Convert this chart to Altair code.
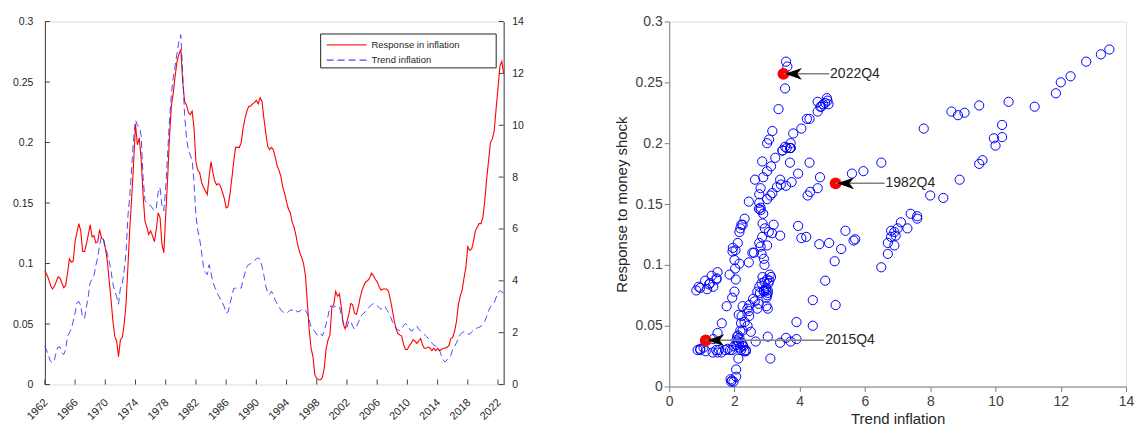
import altair as alt
import pandas as pd

FONT = "Liberation Sans"

start_year = 1962

# Response of inflation to a money shock (left axis), quarterly from 1962Q1
response = [
    0.094, 0.091, 0.087, 0.082,  # 1962
    0.079, 0.081, 0.085, 0.089,  # 1963
    0.088, 0.084, 0.080, 0.082,  # 1964
    0.092, 0.104, 0.101, 0.102,  # 1965
    0.118, 0.126, 0.133, 0.127,  # 1966
    0.110, 0.110, 0.116, 0.124,  # 1967
    0.132, 0.122, 0.123, 0.117,  # 1968
    0.118, 0.128, 0.121, 0.120,  # 1969
    0.113, 0.103, 0.087, 0.071,  # 1970
    0.053, 0.040, 0.036, 0.023,  # 1971
    0.037, 0.039, 0.050, 0.067,  # 1972
    0.098, 0.130, 0.155, 0.183,  # 1973
    0.215, 0.198, 0.204, 0.186,  # 1974
    0.157, 0.135, 0.130, 0.124,  # 1975
    0.127, 0.123, 0.118, 0.128,  # 1976
    0.142, 0.138, 0.116, 0.109,  # 1977
    0.140, 0.170, 0.205, 0.230,  # 1978
    0.241, 0.255, 0.267, 0.273,  # 1979
    0.277, 0.250, 0.234, 0.231,  # 1980
    0.225, 0.223, 0.226, 0.212,  # 1981
    0.184, 0.177, 0.175, 0.167,  # 1982
    0.163, 0.160, 0.157, 0.172,  # 1983
    0.184, 0.175, 0.168, 0.165,  # 1984
    0.166, 0.164, 0.159, 0.154,  # 1985
    0.146, 0.147, 0.157, 0.170,  # 1986
    0.184, 0.196, 0.196, 0.196,  # 1987
    0.200, 0.212, 0.220, 0.226,  # 1988
    0.230, 0.230, 0.232, 0.233,  # 1989
    0.235, 0.232, 0.237, 0.234,  # 1990
    0.220, 0.208, 0.197, 0.194,  # 1991
    0.196, 0.194, 0.188, 0.181,  # 1992
    0.177, 0.172, 0.163, 0.158,  # 1993
    0.151, 0.145, 0.142, 0.134,  # 1994
    0.130, 0.123, 0.115, 0.109,  # 1995
    0.105, 0.100, 0.090, 0.068,  # 1996
    0.045, 0.030, 0.023, 0.008,  # 1997
    0.005, 0.004, 0.004, 0.006,  # 1998
    0.014, 0.030, 0.037, 0.041,  # 1999
    0.064, 0.066, 0.077, 0.073,  # 2000
    0.075, 0.064, 0.050, 0.046,  # 2001
    0.052, 0.058, 0.067, 0.066,  # 2002
    0.059, 0.058, 0.064, 0.072,  # 2003
    0.078, 0.082, 0.085, 0.086,  # 2004
    0.088, 0.092, 0.090, 0.087,  # 2005
    0.085, 0.081, 0.078, 0.079,  # 2006
    0.079, 0.079, 0.077, 0.070,  # 2007
    0.062, 0.053, 0.046, 0.042,  # 2008
    0.041, 0.040, 0.033, 0.029,  # 2009
    0.029, 0.032, 0.034, 0.037,  # 2010
    0.036, 0.034, 0.036, 0.038,  # 2011
    0.033, 0.030, 0.030, 0.031,  # 2012
    0.030, 0.028, 0.030, 0.028,  # 2013
    0.030, 0.028, 0.029, 0.030,  # 2014
    0.030, 0.031, 0.032, 0.038,  # 2015
    0.039, 0.044, 0.052, 0.066,  # 2016
    0.073, 0.078, 0.088, 0.097,  # 2017
    0.114, 0.111, 0.112, 0.118,  # 2018
    0.127, 0.130, 0.133, 0.133,  # 2019
    0.138, 0.152, 0.170, 0.185,  # 2020
    0.200, 0.203, 0.210, 0.228,  # 2021
    0.245, 0.263, 0.267, 0.257,  # 2022
]

# Trend inflation (right axis), quarterly from 1962Q1
trend = [
    1.48, 1.30, 1.10, 0.90,  # 1962
    0.83, 0.95, 1.25, 1.45,  # 1963
    1.45, 1.22, 1.16, 1.35,  # 1964
    1.85, 2.00, 2.15, 2.44,  # 1965
    2.76, 3.15, 3.20, 3.05,  # 1966
    2.60, 2.55, 3.00, 3.40,  # 1967
    3.95, 4.05, 4.20, 4.60,  # 1968
    4.90, 5.40, 5.70, 5.65,  # 1969
    5.27, 5.07, 4.78, 4.40,  # 1970
    3.90, 3.58, 3.40, 3.10,  # 1971
    3.72, 3.90, 4.40, 5.10,  # 1972
    6.50, 7.30, 8.40, 9.50,  # 1973
    10.20, 10.00, 9.95, 9.60,  # 1974
    8.00, 7.10, 7.00, 6.94,  # 1975
    6.90, 6.80, 6.70, 6.80,  # 1976
    7.40, 7.60, 6.90, 6.70,  # 1977
    7.60, 8.90, 10.20, 11.20,  # 1978
    11.85, 12.30, 12.78, 13.23,  # 1979
    13.49, 12.00, 10.40, 9.50,  # 1980
    9.05, 8.85, 8.65, 7.80,  # 1981
    6.50, 5.95, 5.60, 5.10,  # 1982
    4.55, 4.32, 4.24, 4.62,  # 1983
    4.30, 3.95, 3.75, 3.58,  # 1984
    3.42, 3.30, 3.16, 3.00,  # 1985
    2.75, 2.80, 3.10, 3.40,  # 1986
    3.70, 3.72, 3.70, 3.72,  # 1987
    3.72, 4.05, 4.30, 4.55,  # 1988
    4.63, 4.66, 4.72, 4.78,  # 1989
    4.85, 4.88, 4.83, 4.55,  # 1990
    4.22, 3.80, 3.55, 3.47,  # 1991
    3.60, 3.47, 3.25, 3.12,  # 1992
    3.00, 2.88, 2.80, 2.76,  # 1993
    2.76, 2.80, 2.88, 2.86,  # 1994
    2.93, 2.85, 2.80, 2.83,  # 1995
    2.90, 2.92, 2.86, 2.74,  # 1996
    2.50, 2.20, 2.12, 2.05,  # 1997
    1.92, 1.90, 1.97, 1.88,  # 1998
    2.05, 2.35, 2.65, 3.02,  # 1999
    3.02, 2.98, 3.02, 2.98,  # 2000
    3.00, 2.70, 2.40, 2.25,  # 2001
    2.20, 2.45, 2.45, 2.25,  # 2002
    2.13, 2.22, 2.40, 2.57,  # 2003
    2.70, 2.76, 2.83, 2.92,  # 2004
    3.00, 3.08, 3.12, 3.07,  # 2005
    3.04, 2.97, 2.90, 2.96,  # 2006
    3.02, 2.90, 2.78, 2.62,  # 2007
    2.44, 2.31, 2.18, 2.11,  # 2008
    2.08, 2.15, 2.27, 2.35,  # 2009
    2.30, 2.17, 2.06, 2.10,  # 2010
    2.22, 2.25, 2.14, 2.06,  # 2011
    1.99, 1.93, 1.86, 1.79,  # 2012
    1.72, 1.60, 1.52, 1.48,  # 2013
    1.44, 1.33, 1.12, 0.95,  # 2014
    0.87, 0.95, 1.05, 1.12,  # 2015
    1.35, 1.48, 1.61, 1.76,  # 2016
    1.93, 2.00, 2.04, 2.02,  # 2017
    1.95, 1.94, 2.03, 2.10,  # 2018
    2.15, 2.18, 2.21, 2.25,  # 2019
    2.31, 2.44, 2.63, 2.85,  # 2020
    3.00, 3.06, 3.16, 3.35,  # 2021
    3.55, 3.62, 3.58, 3.50,  # 2022
]

series_names = ["Response in inflation", "Trend inflation"]
year_ticks = list(range(1962, 2023, 4))
resp_ticks = [0, 0.05, 0.1, 0.15, 0.2, 0.25, 0.3]
trend_ticks = [0, 2, 4, 6, 8, 10, 12, 14]

highlight_quarters = ["2022Q4", "1982Q4", "2015Q4"]
label_trend = [4.9, 6.6, 4.75]

# ---------------------------------------------------------------------------
n = len(response)
dates = [start_year + i / 4 for i in range(n)]
quarters = [f"{start_year + i // 4}Q{i % 4 + 1}" for i in range(n)]

df = pd.DataFrame({"date": dates, "quarter": quarters,
                   "response": response, "trend": trend})
long = pd.concat([
    pd.DataFrame({"date": dates, "value": response, "series": series_names[0]}),
    pd.DataFrame({"date": dates, "value": trend, "series": series_names[1]}),
], ignore_index=True)

hl = pd.DataFrame({"quarter": highlight_quarters, "label_trend": label_trend})
hl = hl.merge(df, on="quarter", how="left")

years_df = pd.DataFrame({"yr": year_ticks, "label": [str(y) for y in year_ticks]})

W1, H1 = 460, 364
W2, H2 = 458, 366
AX = "#404040"
TXT = "#262626"

xscale = alt.Scale(domain=[1962, 2022.75], nice=False, zero=False)
yL = alt.Scale(domain=[0, 0.3], nice=False)
yR = alt.Scale(domain=[0, 14], nice=False)

# trailing blank room inside the legend box (em/en spaces closed by a zero-width space)
legend = alt.Legend(
    title=None, orient="none", legendX=276, legendY=12, direction="vertical",
    strokeColor=TXT, fillColor="white", padding=2.5, cornerRadius=0,
    labelFontSize=9.5, labelFont=FONT, labelColor=TXT, labelLimit=400,
    labelExpr="datum.label + '\u2003\u2003\u2003\u2002\u200b'",
    symbolType="M-2.5,0L2.5,0", symbolSize=256, symbolStrokeWidth=1.2,
    symbolOffset=15, labelOffset=16, rowPadding=1.3,
)
color = alt.Color("series:N", scale=alt.Scale(domain=series_names, range=["#ff0000", "#2a2aff"]),
                  legend=legend)
dash = alt.StrokeDash("series:N", scale=alt.Scale(domain=series_names, range=[[1, 0], [7, 4]]),
                      legend=None)

x_axis = alt.Axis(values=year_ticks, labels=False, ticks=False, domainColor=AX,
                  grid=False, title=None)
left_axis = alt.Axis(values=resp_ticks, format="~g", orient="left", ticks=False, tickSize=0,
                     domainColor=AX, labelColor=TXT, labelFontSize=10.5, labelFont=FONT,
                     labelPadding=12, grid=False, title=None)
right_axis = alt.Axis(values=trend_ticks, format="~g", orient="right", ticks=False, tickSize=0,
                      domainColor=AX, labelColor=TXT, labelFontSize=10.5, labelFont=FONT,
                      labelPadding=8, grid=False, title=None)

# inward tick marks on the bottom axis (this layer carries the x axis)
bt = alt.Chart(years_df).mark_rule(color=AX).encode(
    x=alt.X("yr:Q", scale=xscale, axis=x_axis), y=alt.value(H1 - 5), y2=alt.value(H1))
# rotated year labels
yl = alt.Chart(years_df).mark_text(angle=315, align="right", baseline="middle", fontSize=11,
                                   font=FONT, color=TXT, dx=2).encode(
    x=alt.X("yr:Q", scale=xscale, axis=None), y=alt.value(H1 + 18), text="label:N")

red = alt.Chart(long).transform_filter(
    alt.datum.series == series_names[0]
).mark_line(strokeWidth=1.1).encode(
    x=alt.X("date:Q", scale=xscale, axis=None),
    y=alt.Y("value:Q", scale=yL, axis=left_axis),
    color=color, strokeDash=dash,
)
blue = alt.Chart(long).transform_filter(
    alt.datum.series == series_names[1]
).mark_line(strokeWidth=1, opacity=0.85).encode(
    x=alt.X("date:Q", scale=xscale, axis=None),
    y=alt.Y("value:Q", scale=yR, axis=right_axis),
    color=color, strokeDash=dash,
)

lt = alt.Chart(pd.DataFrame({"v": resp_ticks})).mark_rule(color=AX).encode(
    y=alt.Y("v:Q", scale=yL, axis=None), x=alt.value(0), x2=alt.value(5))
rt = alt.Chart(pd.DataFrame({"v": trend_ticks})).mark_rule(color=AX).encode(
    y=alt.Y("v:Q", scale=yR, axis=None), x=alt.value(W1 - 5), x2=alt.value(W1))

left = alt.layer(red, blue, lt, rt, bt, yl).resolve_scale(y="independent").properties(
    width=W1, height=H1)

# ---------------------------------------------------------------------------
sxs = alt.Scale(domain=[0, 14], nice=False)
sys_ = alt.Scale(domain=[0, 0.3], nice=False)
sx_axis = alt.Axis(values=trend_ticks, format="~g", title="Trend inflation", titleFontSize=15,
                   titleFont=FONT, titleColor=TXT, titleFontWeight="normal", titlePadding=3,
                   labelFontSize=14, labelColor=AX, labelFont=FONT, tickSize=5,
                   tickColor="#808080", domainColor="#808080", labelPadding=3, grid=False,
                   labelFlush=False)
sy_axis = alt.Axis(values=resp_ticks, format="~g", title="Response to money shock",
                   titleFontSize=15, titleFont=FONT, titleColor=TXT, titleFontWeight="normal",
                   titlePadding=6, labelFontSize=14, labelColor=AX, labelFont=FONT, tickSize=5,
                   tickColor="#808080", domainColor="#808080", labelPadding=2, grid=False)

pts = alt.Chart(df).mark_point(shape="circle", filled=False, size=85, strokeWidth=1,
                               color="#0000ff", opacity=1).encode(
    x=alt.X("trend:Q", scale=sxs, axis=sx_axis),
    y=alt.Y("response:Q", scale=sys_, axis=sy_axis),
)
dots = alt.Chart(hl).mark_circle(size=140, color="#ff0000", opacity=1).encode(
    x=alt.X("trend:Q", scale=sxs), y=alt.Y("response:Q", scale=sys_))
lines = alt.Chart(hl).mark_rule(color="#808080", strokeWidth=1.5).encode(
    x=alt.X("trend:Q", scale=sxs), x2="label_trend:Q", y=alt.Y("response:Q", scale=sys_))
heads = alt.Chart(hl).mark_point(shape="M-1,0L1,-0.7L0.45,0L1,0.7Z", filled=True, size=289,
                                 color="#000000", opacity=1, xOffset=10, strokeWidth=0).encode(
    x=alt.X("trend:Q", scale=sxs), y=alt.Y("response:Q", scale=sys_))
texts = alt.Chart(hl).mark_text(align="left", baseline="middle", fontSize=14, font=FONT,
                                color=TXT, dx=1).encode(
    x=alt.X("label_trend:Q", scale=sxs), y=alt.Y("response:Q", scale=sys_), text="quarter:N")

right = alt.layer(pts, dots, lines, heads, texts).properties(width=W2, height=H2)

chart = alt.hconcat(left, right, spacing=89).properties(
    padding={"left": 12, "top": 13, "right": 0, "bottom": 0}
).configure_view(stroke=None).configure(background="white")

chart.save("out.html", embed_options={"renderer": "svg", "actions": False})
